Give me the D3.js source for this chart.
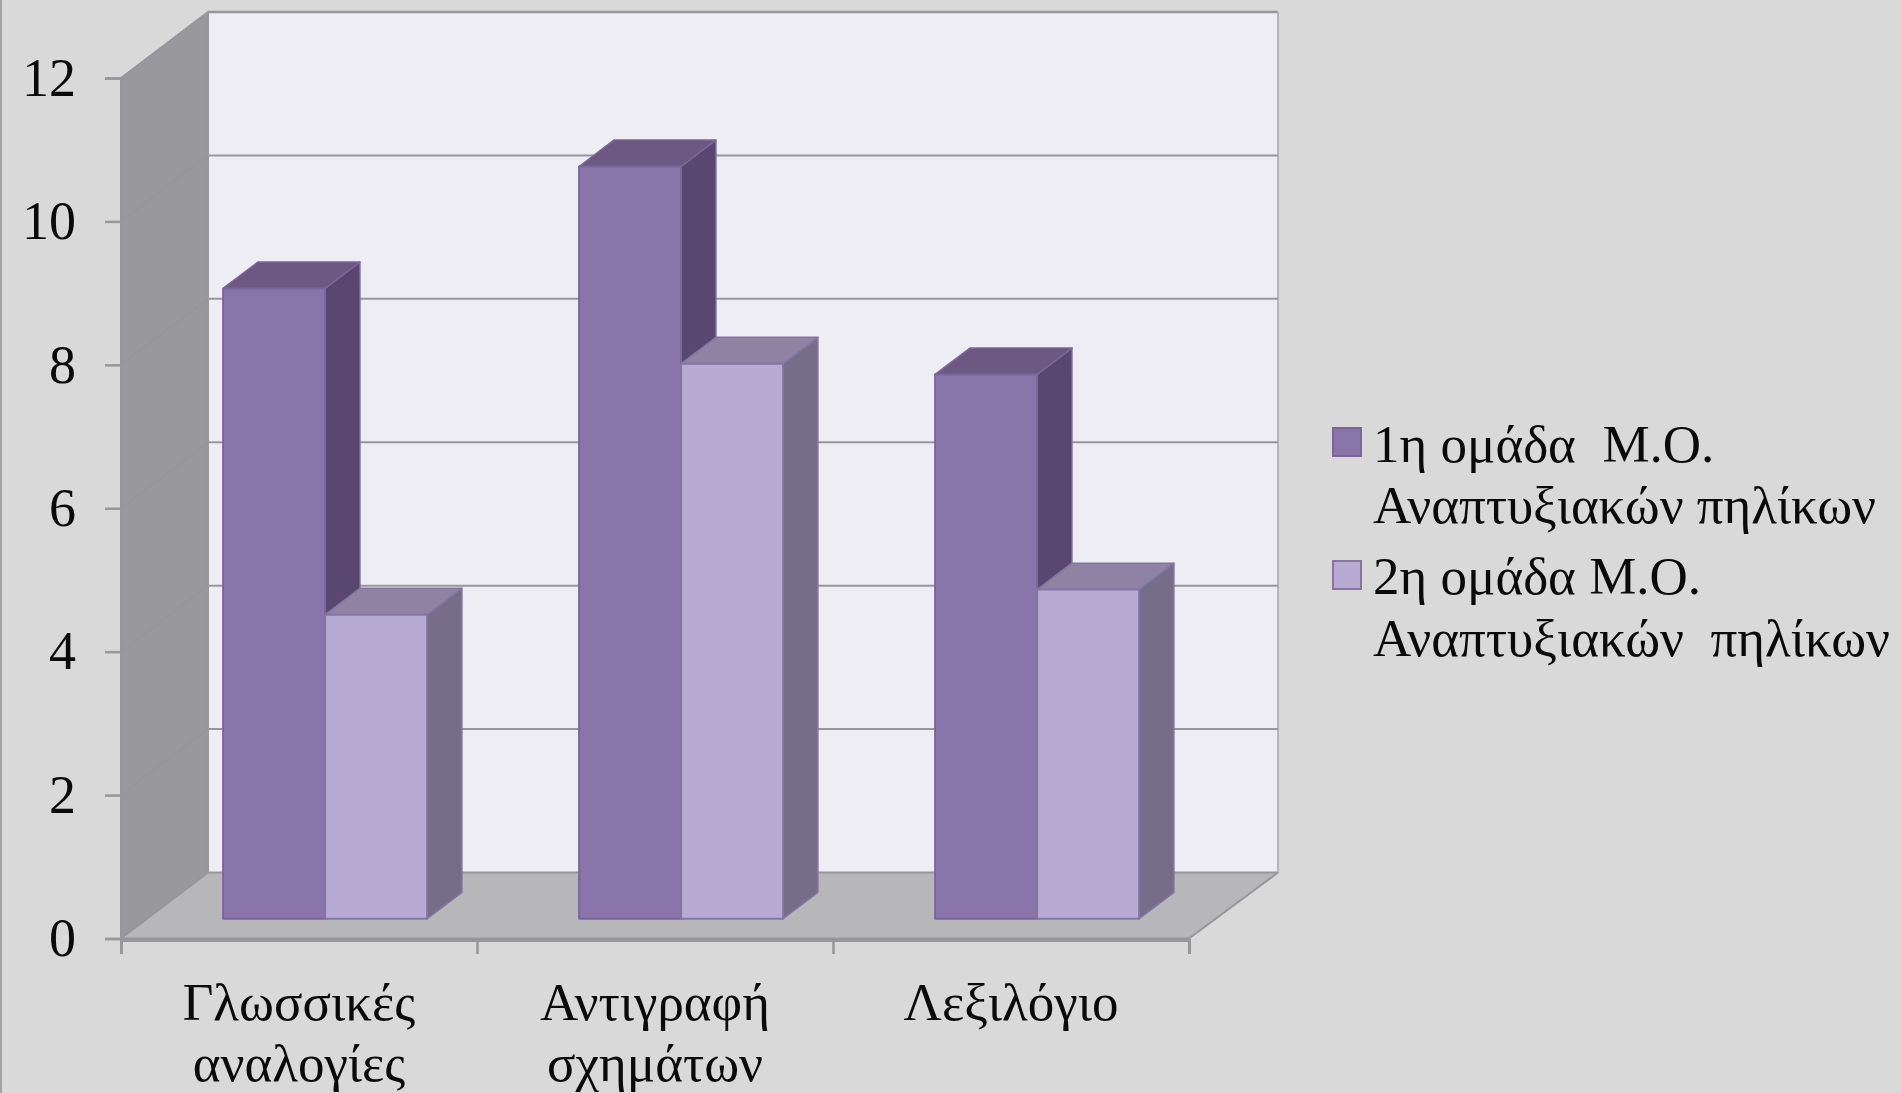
<!DOCTYPE html>
<html><head><meta charset="utf-8">
<script src="https://cdn.jsdelivr.net/npm/d3@7"></script>
<style>
html,body{margin:0;padding:0;background:#d9d9d9;overflow:hidden}
svg{display:block;filter:blur(0.6px)}
text{font-family:"Liberation Serif",serif;fill:#0a0a0a}
</style></head><body>
<svg id="c" width="1901" height="1093"></svg>
<script>
const categories=[["Γλωσσικές","αναλογίες"],["Αντιγραφή","σχημάτων"],["Λεξιλόγιο"]];
const seriesNames=["1η ομάδα  Μ.Ο.","2η ομάδα Μ.Ο."];
const legendSecondLines=["Αναπτυξιακών  πηλίκων","Αναπτυξιακών   πηλίκων"];
const series1=[8.79,10.49,7.59];
const series2=[4.24,7.74,4.59];
const yTicks=[0,2,4,6,8,10,12];

const W=1901,H=1093,L=121,R=1189,depthX=87,depthY=66,z0=0.3,z1=0.7;
const svg=d3.select("#c");
const catKeys=categories.map(c=>c.join(" "));
const x=d3.scaleBand().domain(catKeys).range([L,R]);
const xEdge=d3.scaleLinear().domain([0,3]).range([L,R]);
const sub=d3.scaleBand().domain([0,1]).range([0,x.bandwidth()]).paddingInner(0).paddingOuter(0.745);
const y=d3.scaleLinear().domain([0,12]).range([938.5,78]);
const P=(px,v,z)=>[px+depthX*z,y(v)-depthY*z];
const poly=(pts,fill,stroke,sw)=>svg.append("polygon").attr("points",pts.map(p=>p.join(",")).join(" ")).attr("fill",fill).attr("stroke",stroke||"none").attr("stroke-width",sw||0).attr("stroke-linejoin","round");
const gridC="#97979b";
const RB=R+2;

svg.append("rect").attr("x",0).attr("y",0).attr("width",2).attr("height",H).attr("fill","#a3a3a3");
poly([P(L,0,1),P(RB,0,1),P(RB,12,1),P(L,12,1)],"#eeedf4");
poly([P(L,0,0),P(L,0,1),P(L,12,1),P(L,12,0)],"#99989c",gridC,2);
poly([P(L,0,0),P(R,0,0),P(RB,0,1),P(L,0,1)],"#b7b6b9",gridC,2);
svg.append("line").attr("x1",P(L,12,1)[0]).attr("y1",P(L,12,1)[1]).attr("x2",P(RB,12,1)[0]).attr("y2",P(RB,12,1)[1]).attr("stroke",gridC).attr("stroke-width",2.5);
svg.append("line").attr("x1",P(RB,0,1)[0]).attr("y1",P(RB,0,1)[1]).attr("x2",P(RB,12,1)[0]).attr("y2",P(RB,12,1)[1]).attr("stroke","#b4b4b6").attr("stroke-width",2);
yTicks.filter(v=>v>0&&v<12).forEach(v=>{
  const a=P(L,v,0),b=P(L,v,1),c=P(RB,v,1);
  svg.append("polyline").attr("points",[a,b,c].map(p=>p.join(",")).join(" ")).attr("fill","none").attr("stroke",gridC).attr("stroke-width",2);
});
const yAxis=svg.append("g").attr("transform",`translate(${L},0)`).call(d3.axisLeft(y).tickValues(yTicks).tickSize(16).tickPadding(29));
yAxis.selectAll("line").attr("stroke",gridC).attr("stroke-width",2.5);
yAxis.select(".domain").attr("stroke",gridC).attr("stroke-width",2.5);
yAxis.selectAll("text").attr("font-size",54).attr("font-family","Liberation Serif").attr("dy","0.32em").style("fill","#0a0a0a");
const xAxis=svg.append("g").attr("transform","translate(0,940)").call(d3.axisBottom(xEdge).tickValues([0,1,2,3]).tickSize(14).tickFormat(""));
xAxis.selectAll("line").attr("stroke",gridC).attr("stroke-width",2.5);
xAxis.select(".domain").attr("stroke",gridC).attr("stroke-width",3);

categories.forEach((lines,i)=>{
  const t=svg.append("text").attr("text-anchor","middle").attr("font-size",53);
  const cx=x(catKeys[i])+x.bandwidth()/2;
  lines.forEach((s,j)=>t.append("tspan").attr("x",cx).attr("y",1020+j*61).text(s));
});

const colors=[
 {front:"#8a75aa",side:"#59476f",top:"#6c5882",stroke:"#7a679a"},
 {front:"#b8abd3",side:"#766d88",top:"#8f82a3",stroke:"#8475a3"}];
function bar(xp,w,v,c){
  const x0=xp,x1=xp+w;
  poly([P(x1,0,z0),P(x1,0,z1),P(x1,v,z1),P(x1,v,z0)],c.side,c.stroke,1.5);
  poly([P(x0,v,z0),P(x1,v,z0),P(x1,v,z1),P(x0,v,z1)],c.top,c.stroke,1.5);
  poly([P(x0,0,z0),P(x1,0,z0),P(x1,v,z0),P(x0,v,z0)],c.front,c.stroke,2);
}
catKeys.forEach((k,i)=>{
  [series1,series2].forEach((s,j)=>{
    bar(x(k)+sub(j),sub.bandwidth(),s[i],colors[j]);
  });
});

const legY=[428,561];
const legBase=[[462,523],[594,656]];
seriesNames.forEach((n,i)=>{
  svg.append("rect").attr("x",1333).attr("y",legY[i]).attr("width",28).attr("height",28)
    .attr("fill",colors[i].front).attr("stroke",colors[i].stroke).attr("stroke-width",2);
  const t=svg.append("text").attr("font-size",53).style("white-space","pre");
  t.append("tspan").attr("x",1373).attr("y",legBase[i][0]).text(n);
  t.append("tspan").attr("x",1373).attr("y",legBase[i][1]).attr("textLength",i===0?503:517).attr("lengthAdjust","spacing").text(legendSecondLines[i].replace(/\s+/g,i===0?" ":"  "));
});
</script>
</body></html>
